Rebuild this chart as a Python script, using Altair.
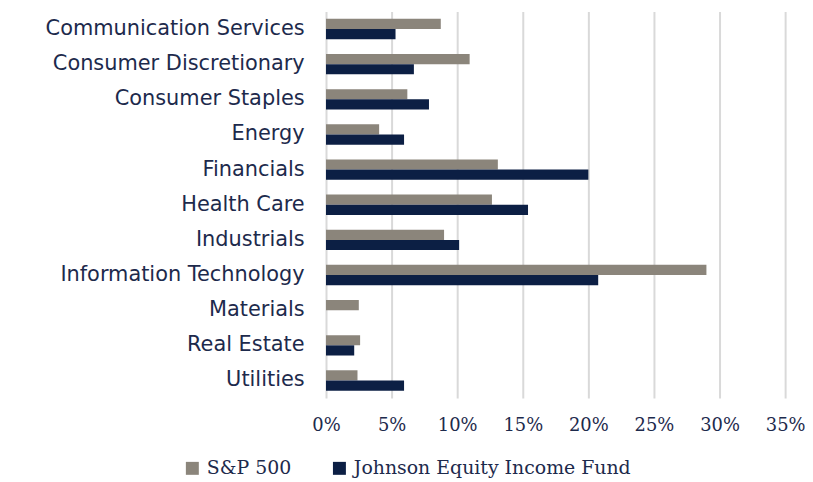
import altair as alt
import pandas as pd

sectors = ["Communication Services", "Consumer Discretionary", "Consumer Staples",
           "Energy", "Financials", "Health Care", "Industrials",
           "Information Technology", "Materials", "Real Estate", "Utilities"]
sp500 = [8.75, 10.95, 6.2, 4.05, 13.1, 12.65, 9.0, 29.0, 2.5, 2.6, 2.4]
fund = [5.3, 6.7, 7.85, 5.95, 20.0, 15.4, 10.15, 20.75, 0.0, 2.15, 5.95]
series = ["S&P 500", "Johnson Equity Income Fund"]
colors = ["#8b857b", "#0c1f44"]
ticks = [0, 0.05, 0.10, 0.15, 0.20, 0.25, 0.30, 0.35]

rows = []
for s, a, b in zip(sectors, sp500, fund):
    rows.append({"sector": s, "series": series[0], "value": a / 100})
    rows.append({"sector": s, "series": series[1], "value": b / 100})
df = pd.DataFrame(rows)

chart = alt.Chart(df).mark_bar().encode(
    y=alt.Y("sector:N", sort=sectors, title=None,
            scale=alt.Scale(paddingInner=0.42, paddingOuter=0.21),
            axis=alt.Axis(labelFont="DejaVu Sans", labelFontSize=21, labelColor="#1d2a4c",
                          labelPadding=22, ticks=False, domain=False, grid=False,
                          labelLimit=400)),
    yOffset=alt.YOffset("series:N", sort=series),
    x=alt.X("value:Q", title=None, scale=alt.Scale(domain=[0, 0.35], nice=False),
            axis=alt.Axis(values=ticks, format=".0%", labelFont="DejaVu Serif",
                          labelFontSize=18, labelColor="#1d2a4c", labelPadding=19,
                          labelFlush=False,
                          ticks=False, domain=False, grid=True, gridColor="#d9d9d9",
                          gridWidth=2)),
    color=alt.Color("series:N", sort=series,
                    scale=alt.Scale(domain=series, range=colors),
                    legend=alt.Legend(title=None, orient="none", legendX=-144, legendY=450,
                                      direction="horizontal", symbolType="square",
                                      symbolSize=170, symbolStrokeWidth=0,
                                      labelFont="DejaVu Serif", labelFontSize=19,
                                      labelColor="#1d2a4c", columnPadding=38,
                                      labelOffset=5, labelLimit=500)),
).properties(
    width=462, height=389,
    autosize=alt.AutoSizeParams(type="none"),
    padding={"left": 320, "top": 2, "right": 20, "bottom": 82},
).configure_view(stroke=None)

chart.save("out.html", embed_options={"renderer": "svg", "actions": False})
